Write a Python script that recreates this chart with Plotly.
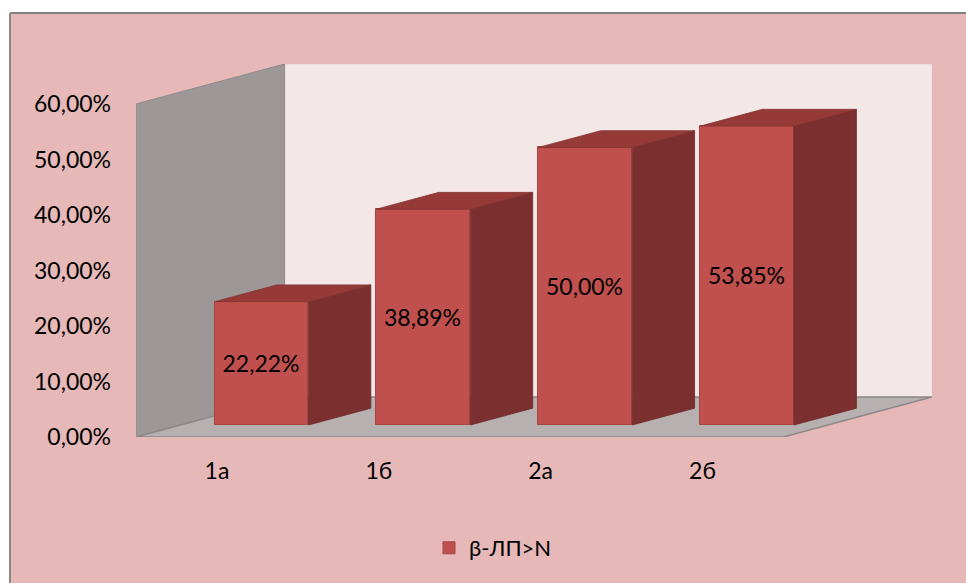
import plotly.graph_objects as go

categories = ["1а", "1б", "2а", "2б"]
values = [22.22, 38.89, 50.00, 53.85]
series_name = "β-ЛП>N"
y_ticks = [0, 10, 20, 30, 40, 50, 60]

# oblique projection parameters (axis units)
D_X = 0.918     # full depth shift in x units
D_Y = 7.2       # full depth shift in y units
F_FRONT = 0.30  # bar front face depth fraction
F_BACK = 0.72   # bar back face depth fraction
BAR_W = 0.58
Y_MAX = 60
N = len(categories)

PINK = "#E6B9B8"
WALL_BACK = "#F3E7E7"
WALL_LEFT = "#9D9797"
FLOOR = "#B7B0B0"
FRONT = "#C0504D"
SIDE = "#7B2F2E"
TOP = "#953A37"

fig = go.Figure()

shapes = []
# background panel with top/left border
shapes.append(dict(type="rect", xref="paper", yref="paper",
                   x0=(10 - 136) / 796, x1=(966 - 136) / 796 + 0.01,
                   y0=(437 - 590) / 373, y1=(437 - 13) / 373,
                   fillcolor=PINK, line=dict(width=0), layer="below"))
shapes.append(dict(type="line", xref="paper", yref="paper",
                   x0=(10 - 136) / 796, x1=(966 - 136) / 796 + 0.01,
                   y0=(437 - 13) / 373, y1=(437 - 13) / 373,
                   line=dict(color="#808080", width=2), layer="below"))
shapes.append(dict(type="line", xref="paper", yref="paper",
                   x0=(10 - 136) / 796, x1=(10 - 136) / 796,
                   y0=(437 - 590) / 373, y1=(437 - 13) / 373,
                   line=dict(color="#8A8A8A", width=2), layer="below"))

def poly(pts):
    return "M " + " L ".join(f"{x},{y}" for x, y in pts) + " Z"

# back wall
shapes.append(dict(type="path", xref="x", yref="y", layer="below",
                   path=poly([(D_X, D_Y), (N + D_X, D_Y), (N + D_X, Y_MAX + D_Y), (D_X, Y_MAX + D_Y)]),
                   fillcolor=WALL_BACK, line=dict(color="#EBDADA", width=1)))
# left wall
shapes.append(dict(type="path", xref="x", yref="y", layer="below",
                   path=poly([(0, 0), (D_X, D_Y), (D_X, Y_MAX + D_Y), (0, Y_MAX)]),
                   fillcolor=WALL_LEFT, line=dict(color="#8F8A8A", width=1)))
# floor
shapes.append(dict(type="path", xref="x", yref="y", layer="below",
                   path=poly([(0, 0), (N, 0), (N + D_X, D_Y), (D_X, D_Y)]),
                   fillcolor=FLOOR, line=dict(color="#8C8888", width=1.5)))

base = F_FRONT * D_Y
bx = F_FRONT * D_X
ddx = (F_BACK - F_FRONT) * D_X
ddy = (F_BACK - F_FRONT) * D_Y
xc = [i + 0.5 + bx for i in range(N)]

fig.add_trace(go.Bar(
    x=xc, y=values, base=base, width=BAR_W, name=series_name,
    marker=dict(color=FRONT, line=dict(color="#A94441", width=1)),
    text=values, texttemplate="%{text:.2f}%", textposition="inside",
    insidetextanchor="middle", textangle=0,
    textfont=dict(color="black", size=23, family="Lato"),
    hoverinfo="skip", showlegend=True,
))

for c, v in zip(xc, values):
    xl, xr = c - BAR_W / 2, c + BAR_W / 2
    top = base + v
    # side face
    fig.add_trace(go.Scatter(
        x=[xr, xr + ddx, xr + ddx, xr, xr],
        y=[base, base + ddy, top + ddy, top, base],
        fill="toself", fillcolor=SIDE, mode="lines",
        line=dict(color="#6E2A29", width=0.8), showlegend=False, hoverinfo="skip"))
    # top face
    fig.add_trace(go.Scatter(
        x=[xl, xr, xr + ddx, xl + ddx, xl],
        y=[top, top, top + ddy, top + ddy, top],
        fill="toself", fillcolor=TOP, mode="lines",
        line=dict(color="#853432", width=0.8), showlegend=False, hoverinfo="skip"))

fig.update_layout(
    width=966, height=583,
    margin=dict(l=136, r=34, t=64, b=146),
    paper_bgcolor="white", plot_bgcolor="rgba(0,0,0,0)",
    separators=", ",
    font=dict(family="Lato", size=23, color="black"),
    shapes=shapes,
    bargap=0,
    xaxis=dict(range=[0, N + D_X], tickvals=[i + 0.5 for i in range(N)],
               ticktext=categories, showgrid=False, zeroline=False, showline=False,
               ticks="", ticklabelstandoff=18, fixedrange=True),
    yaxis=dict(range=[0, Y_MAX + D_Y], tickvals=y_ticks,
               ticktext=[f"{t:.2f}".replace(".", ",") + "%" for t in y_ticks],
               showgrid=False, zeroline=False, showline=False, ticks="",
               ticklabelstandoff=24, fixedrange=True),
    legend=dict(x=(493 - 136) / 796, xanchor="center", y=(437 - 548) / 373, yanchor="middle",
                bgcolor="rgba(0,0,0,0)", font=dict(size=22, family="Lato"),
                itemwidth=30),
)

fig.write_html("out.html")
